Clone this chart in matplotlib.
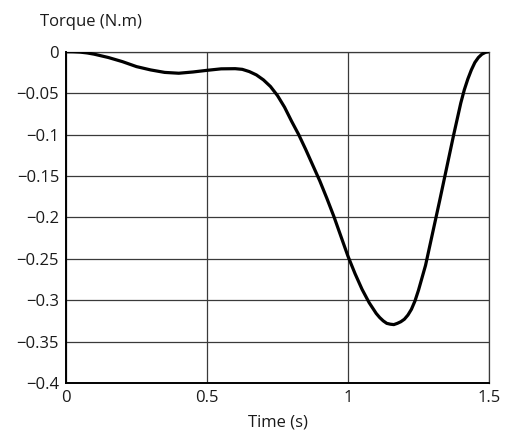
import matplotlib
matplotlib.use("Agg")
import matplotlib.pyplot as plt

# values
time_s = [0, 0.025, 0.05, 0.075, 0.1, 0.15, 0.2, 0.25, 0.3, 0.35, 0.4, 0.45,
          0.5, 0.55, 0.6, 0.625, 0.65, 0.675, 0.7, 0.725, 0.75, 0.775, 0.8,
          0.825, 0.85, 0.875, 0.9, 0.925, 0.95, 0.975, 1.0, 1.025, 1.05,
          1.075, 1.1, 1.1125, 1.125, 1.1375, 1.15, 1.1625, 1.175, 1.1875, 1.2,
          1.2125, 1.225, 1.2375, 1.25, 1.275, 1.3, 1.325, 1.35, 1.375, 1.4,
          1.4125, 1.425, 1.4375, 1.45, 1.4625, 1.475, 1.4875, 1.5]
torque = [0, -0.0001, -0.0005, -0.0015, -0.003, -0.007, -0.012, -0.018,
          -0.022, -0.025, -0.026, -0.0245, -0.0225, -0.0207, -0.0205, -0.0213,
          -0.024, -0.028, -0.034, -0.042, -0.053, -0.067, -0.084, -0.100,
          -0.118, -0.137, -0.156, -0.177, -0.199, -0.223, -0.247, -0.268,
          -0.287, -0.303, -0.316, -0.321, -0.325, -0.328, -0.329, -0.3295,
          -0.328, -0.326, -0.323, -0.318, -0.311, -0.301, -0.288, -0.258,
          -0.219, -0.180, -0.140, -0.100, -0.062, -0.046, -0.033, -0.022,
          -0.013, -0.007, -0.003, -0.0008, 0]
x_ticks = [0, 0.5, 1, 1.5]
x_labels = ["0", "0.5", "1", "1.5"]
y_ticks = [0, -0.05, -0.1, -0.15, -0.2, -0.25, -0.3, -0.35, -0.4]
y_labels = ["0", "\u22120.05", "\u22120.1", "\u22120.15", "\u22120.2",
            "\u22120.25", "\u22120.3", "\u22120.35", "\u22120.4"]

plt.rcParams['font.family'] = ['Open Sans', 'DejaVu Sans']

fig = plt.figure(figsize=(5.17, 4.33), dpi=100)
ax = fig.add_axes([0.1277, 0.1155, 0.8181, 0.7651])

ax.plot(time_s, torque, color='black', lw=2.3, solid_capstyle='round',
        solid_joinstyle='round', zorder=3)

ax.set_xlim(0, 1.5)
ax.set_ylim(-0.4, 0)
ax.set_xticks(x_ticks)
ax.set_xticklabels(x_labels)
ax.set_yticks(y_ticks)
ax.set_yticklabels(y_labels)
ax.tick_params(length=0, labelsize=12, pad=5, colors='#1a1a1a')
ax.grid(True, color='#3a3a3a', lw=0.9)

for side in ['top', 'right']:
    ax.spines[side].set_color('#3a3a3a')
    ax.spines[side].set_linewidth(0.9)
for side in ['left', 'bottom']:
    ax.spines[side].set_color('black')
    ax.spines[side].set_linewidth(1.4)

ax.set_xlabel("Time (s)", fontsize=12, color='#1a1a1a', labelpad=6)
fig.text(0.078, 0.95, "Torque (N.m)", fontsize=12, color='#1a1a1a',
         va='center', ha='left')

fig.savefig("out.png", dpi=100)
